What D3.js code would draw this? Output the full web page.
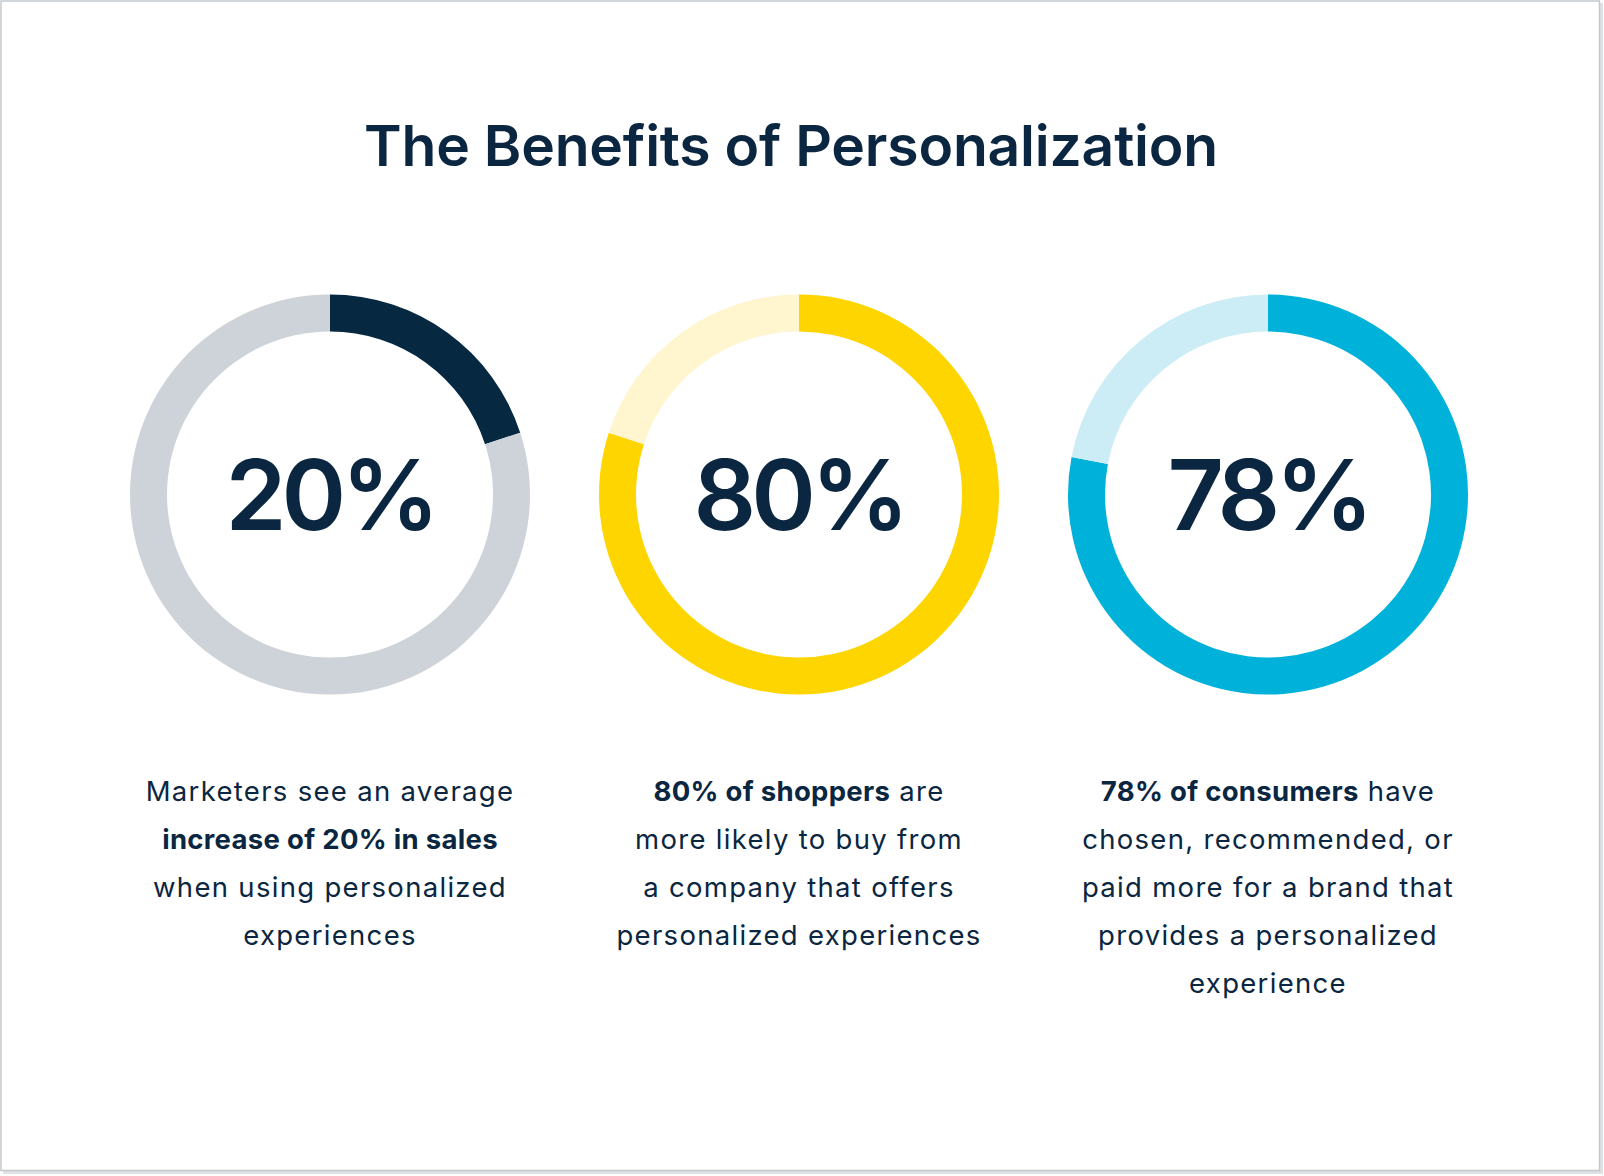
<!DOCTYPE html>
<html>
<head>
<meta charset="utf-8">
<script src="https://cdn.jsdelivr.net/npm/d3@7"></script>
<style>
  html, body { margin: 0; padding: 0; background: #ffffff; }
  svg { display: block; }
</style>
</head>
<body>
<script>
// ---- data ----
const title = "The Benefits of Personalization";
const categories = ["Sales increase", "Shoppers", "Consumers"];
const values = [20, 80, 78];
const valueLabels = ["20%", "80%", "78%"];
const mainColors = ["#062840", "#ffd500", "#00b1da"];
const restColors = ["#cdd3d9", "#fff5cf", "#ccedf6"];
// description lines: each line is a list of [text, bold]
const descriptions = [
  [
    [["Marketers see an average", false]],
    [["increase of 20% in sales", true]],
    [["when using personalized", false]],
    [["experiences", false]]
  ],
  [
    [["80% of shoppers", true], [" are", false]],
    [["more likely to buy from", false]],
    [["a company that offers", false]],
    [["personalized experiences", false]]
  ],
  [
    [["78% of consumers", true], [" have", false]],
    [["chosen, recommended, or", false]],
    [["paid more for a brand that", false]],
    [["provides a personalized", false]],
    [["experience", false]]
  ]
];

// ---- layout ----
const W = 1604, H = 1176;
const ink = "#0b2640";
const font = "Inter, Lato, 'Noto Sans', sans-serif";

const svg = d3.select("body").append("svg")
  .attr("width", W).attr("height", H);

// frame with light shadow
svg.append("rect").attr("x", 3).attr("y", 3).attr("width", W - 4).attr("height", H - 5)
  .attr("fill", "#dfe2e5");
svg.append("rect").attr("x", 1).attr("y", 1).attr("width", W - 5.5).attr("height", H - 6.5)
  .attr("fill", "#ffffff").attr("stroke", "#c3c8cd").attr("stroke-width", 1.5);

// title
svg.append("text")
  .attr("x", 791).attr("y", 166)
  .attr("text-anchor", "middle")
  .attr("font-family", font)
  .attr("font-weight", 600)
  .attr("font-size", 57)
  .attr("letter-spacing", -0.2)
  .attr("fill", ink)
  .text(title);

// x scale placing the three donuts
const x = d3.scalePoint().domain(categories).range([330, 1268]);
const cy = 494.5;
const rOuter = 200, rInner = 163;

const pie = d3.pie().sort(null).value(d => d);
const arc = d3.arc().innerRadius(rInner).outerRadius(rOuter);

categories.forEach((c, i) => {
  const g = svg.append("g").attr("transform", `translate(${x(c)},${cy})`);
  const slices = pie([values[i], 100 - values[i]]);
  g.selectAll("path").data(slices).join("path")
    .attr("d", arc)
    .attr("fill", (d, j) => j === 0 ? mainColors[i] : restColors[i]);

  g.append("text")
    .attr("x", 0).attr("y", 35)
    .attr("text-anchor", "middle")
    .attr("font-family", font)
    .attr("font-weight", 600)
    .attr("font-size", 98)
    .attr("letter-spacing", -5)
    .attr("fill", ink)
    .text(valueLabels[i]);

  const t = svg.append("text")
    .attr("text-anchor", "middle")
    .attr("font-family", font)
    .attr("font-size", 27.5)
    .attr("fill", ink);
  descriptions[i].forEach((line, k) => {
    const ln = t.append("tspan").attr("x", x(c)).attr("y", 801 + k * 48);
    line.forEach(([txt, bold]) => {
      ln.append("tspan")
        .attr("font-weight", bold ? 700 : 400)
        .attr("letter-spacing", bold ? 0.3 : 1.3)
        .text(txt);
    });
  });
});
</script>
</body>
</html>
